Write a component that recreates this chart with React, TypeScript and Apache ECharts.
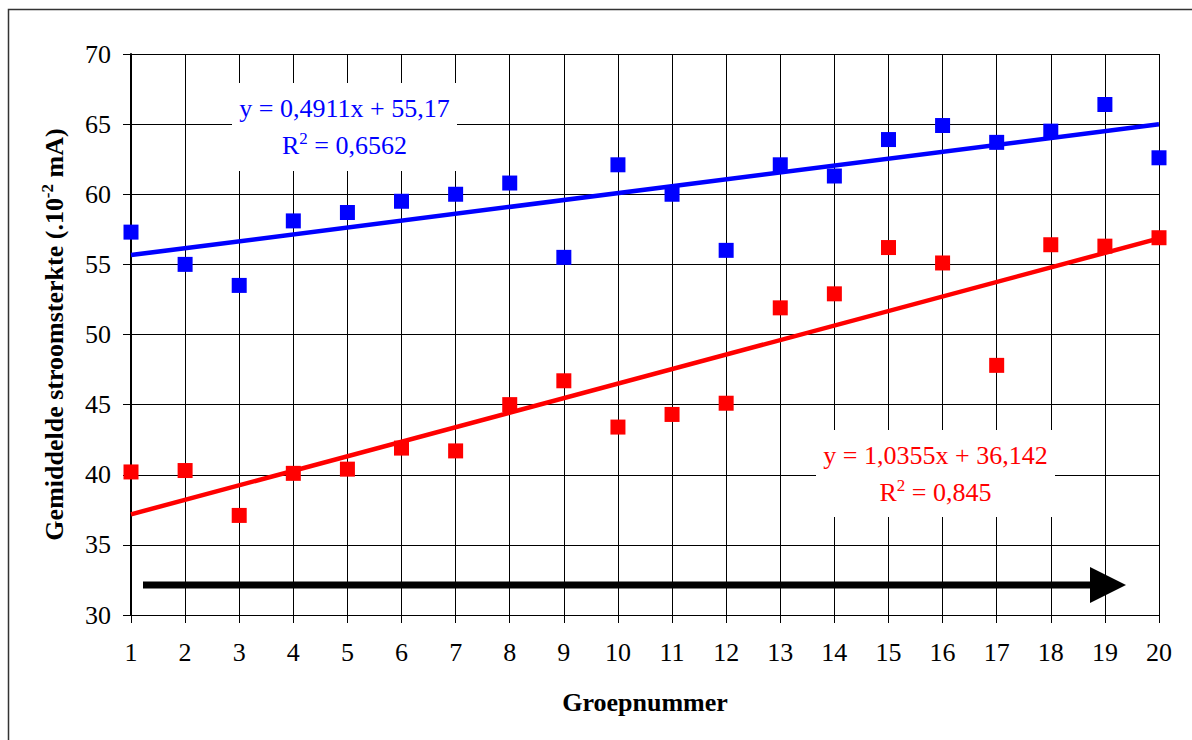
import React, { useEffect, useRef } from "react";
import * as echarts from "echarts";

const groupNumbers = [1, 2, 3, 4, 5, 6, 7, 8, 9, 10, 11, 12, 13, 14, 15, 16, 17, 18, 19, 20];
const blueValues = [57.3, 55.0, 53.5, 58.1, 58.7, 59.5, 60.0, 60.8, 55.5, 62.1, 60.0, 56.0, 62.1, 61.3, 63.9, 64.9, 63.7, 64.5, 66.4, 62.6];
const redValues = [40.2, 40.3, 37.1, 40.1, 40.4, 41.9, 41.7, 45.0, 46.7, 43.4, 44.3, 45.1, 51.9, 52.9, 56.2, 55.1, 47.8, 56.4, 56.3, 56.9];
const blueSlope = 0.4911;
const blueIntercept = 55.17;
const redSlope = 1.0355;
const redIntercept = 36.142;
const blueEquation = "y = 0,4911x + 55,17";
const blueR2 = " = 0,6562";
const redEquation = "y = 1,0355x + 36,142";
const redR2 = " = 0,845";
const yMin = 30;
const yMax = 70;
const yStep = 5;
const xMin = 1;
const xMax = 20;

const FONT = "'Liberation Serif', 'Times New Roman', serif";
const BLUE = "#0000ff";
const RED = "#ff0000";

function eqLabel(cx: number, top: number, w: number, h: number, color: string, eq: string, r2: string) {
  return [
    {
      type: "rect",
      z: 100,
      shape: { x: cx - w / 2, y: top, width: w, height: h },
      style: { fill: "#ffffff", stroke: null },
    },
    {
      type: "text",
      z: 101,
      x: cx,
      y: top + 25,
      style: { text: eq, fill: color, font: `26px ${FONT}`, align: "center", verticalAlign: "middle" },
    },
    {
      type: "text",
      z: 101,
      x: cx,
      y: top + 62,
      style: {
        text: `{a|R}{s|2}{a|${r2}}`,
        fill: color,
        align: "center",
        verticalAlign: "middle",
        rich: {
          a: { fontFamily: FONT, fontSize: 26, fill: color, lineHeight: 30 },
          s: { fontFamily: FONT, fontSize: 17, fill: color, verticalAlign: "top", lineHeight: 18 },
        },
      },
    },
  ];
}

export default function App() {
  const ref = useRef<HTMLDivElement>(null);
  useEffect(() => {
    if (!ref.current) return;
    const chart = echarts.init(ref.current, null, { renderer: "svg" });
    const fitLine = (m: number, b: number) => [
      [xMin, m * xMin + b],
      [xMax, m * xMax + b],
    ];
    chart.setOption({
      animation: false,
      backgroundColor: "#fff",
      grid: { left: 131, right: 33, top: 54, bottom: 125, containLabel: false },
      xAxis: {
        type: "value",
        min: xMin,
        max: xMax,
        interval: 1,
        name: "Groepnummer",
        nameLocation: "middle",
        nameGap: 74,
        nameTextStyle: { fontFamily: FONT, fontSize: 26, fontWeight: "bold", color: "#000" },
        axisLine: { show: true, lineStyle: { color: "#000", width: 1 } },
        axisTick: { show: true, length: 8, inside: false, lineStyle: { color: "#000" } },
        axisLabel: { fontFamily: FONT, fontSize: 26, color: "#000", margin: 24 },
        splitLine: { show: true, lineStyle: { color: "#000", width: 1 } },
      },
      yAxis: {
        type: "value",
        min: yMin,
        max: yMax,
        interval: yStep,
        name: "{b|Gemiddelde stroomsterkte (.10}{s|-2}{b| mA)}",
        nameLocation: "middle",
        nameRotate: 90,
        nameGap: 62,
        nameTextStyle: {
          fontFamily: FONT,
          fontSize: 26,
          fontWeight: "bold",
          color: "#000",
          rich: {
            b: { fontFamily: FONT, fontSize: 26, fontWeight: "bold", color: "#000", lineHeight: 30 },
            s: { fontFamily: FONT, fontSize: 17, fontWeight: "bold", color: "#000", verticalAlign: "top", lineHeight: 18 },
          },
        },
        axisLine: { show: true, lineStyle: { color: "#000", width: 2 } },
        axisTick: { show: true, length: 8, inside: false, lineStyle: { color: "#000" } },
        axisLabel: { fontFamily: FONT, fontSize: 26, color: "#000", margin: 20 },
        splitLine: { show: true, lineStyle: { color: "#000", width: 1 } },
      },
      series: [
        {
          type: "line",
          data: fitLine(blueSlope, blueIntercept),
          symbol: "none",
          lineStyle: { color: BLUE, width: 4.5 },
          z: 3,
        },
        {
          type: "line",
          data: fitLine(redSlope, redIntercept),
          symbol: "none",
          lineStyle: { color: RED, width: 4.5 },
          z: 3,
        },
        {
          type: "scatter",
          data: groupNumbers.map((g, i) => [g, blueValues[i]]),
          symbol: "rect",
          symbolSize: 15,
          itemStyle: { color: BLUE, opacity: 1 },
          z: 4,
        },
        {
          type: "scatter",
          data: groupNumbers.map((g, i) => [g, redValues[i]]),
          symbol: "rect",
          symbolSize: 15,
          itemStyle: { color: RED, opacity: 1 },
          z: 4,
        },
      ],
      graphic: [
        {
          type: "rect",
          shape: { x: 8.5, y: 9.5, width: 1300, height: 900 },
          style: { fill: "none", stroke: "#333", lineWidth: 1.5 },
          z: 0,
          silent: true,
        },
        ...eqLabel(344.5, 83, 225, 88, BLUE, blueEquation, blueR2),
        ...eqLabel(935.5, 430, 239, 87, RED, redEquation, redR2),
        {
          type: "line",
          shape: { x1: 143, y1: 585, x2: 1092, y2: 585 },
          style: { stroke: "#000", lineWidth: 7 },
          z: 60,
        },
        {
          type: "polygon",
          shape: { points: [[1090, 567], [1090, 603], [1126, 585]] },
          style: { fill: "#000" },
          z: 60,
        },
      ],
    });
    return () => chart.dispose();
  }, []);
  return (
    <div
      ref={ref}
      style={{ position: "fixed", left: 0, top: 0, width: 1192, height: 740 }}
    />
  );
}
